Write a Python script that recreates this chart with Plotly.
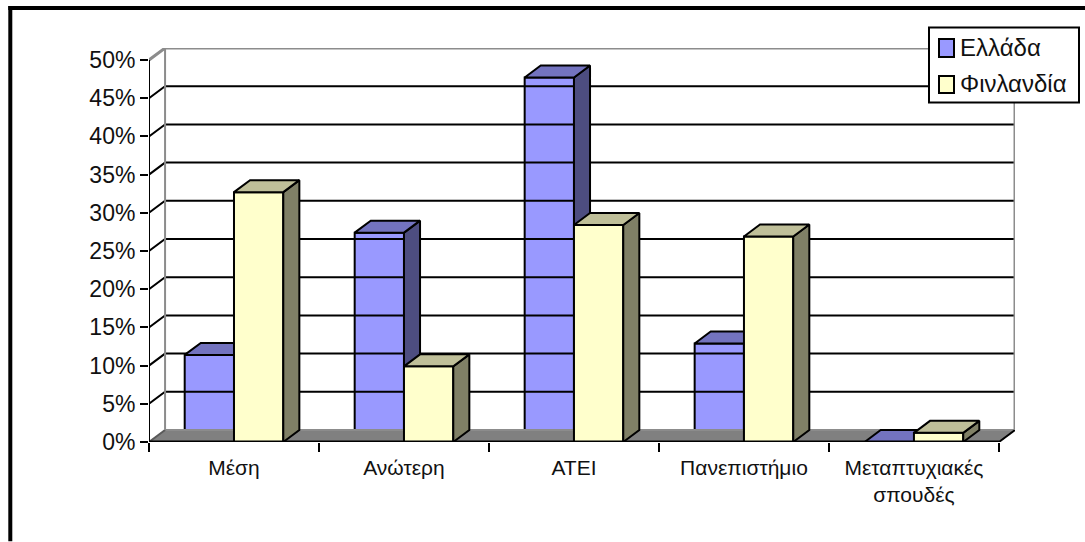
import plotly.graph_objects as go

# Survey results by education level, in percent
categories = ["Μέση", "Ανώτερη", "ΑΤΕΙ", "Πανεπιστήμιο", "Μεταπτυχιακές<br>σπουδές"]
greece = [11.4, 27.4, 47.7, 12.9, 0.0]
finland = [32.7, 9.9, 28.4, 26.9, 1.2]
y_levels = [0, 5, 10, 15, 20, 25, 30, 35, 40, 45, 50]
y_labels = ["0%", "5%", "10%", "15%", "20%", "25%", "30%", "35%", "40%", "45%", "50%"]
series_names = ["Ελλάδα", "Φινλανδία"]

FONT = "Liberation Sans, Arial, sans-serif"
N = len(categories)

# Oblique projection offset of the chart's depth, in axis units
DX = 0.0945
DY = 1.57
BAR_W = 0.29
X_MAX = N + DX
Y_MAX = 50 + DY

# Plot area placement on the page, in pixels
PLOT_L, PLOT_R, PLOT_T, PLOT_B = 149, 1015, 48, 442.5
GREECE_COLORS = ("#9999FF", "#7373BF", "#4D4D80")
FINLAND_COLORS = ("#FFFFCC", "#BFBF99", "#808066")


def px(x):
    return (x - PLOT_L) / (PLOT_R - PLOT_L)


def py(y):
    return (PLOT_B - y) / (PLOT_B - PLOT_T)


def polygons(shapes):
    xs, ys = [], []
    for shape in shapes:
        for x, y in shape:
            xs.append(x)
            ys.append(y)
        xs.append(shape[0][0])
        ys.append(shape[0][1])
        xs.append(None)
        ys.append(None)
    return xs, ys


def top_face(left, value):
    return [(left, value), (left + DX, value + DY),
            (left + BAR_W + DX, value + DY), (left + BAR_W, value)]


def side_face(left, value):
    right = left + BAR_W
    return [(right, 0), (right + DX, DY), (right + DX, value + DY), (right, value)]


def poly_trace(shapes, fill, axes, line="black", width=2):
    xs, ys = polygons(shapes)
    return go.Scatter(x=xs, y=ys, mode="lines", fill="toself", fillcolor=fill,
                      line=dict(color=line, width=width), showlegend=False,
                      hoverinfo="skip", xaxis=axes[0], yaxis=axes[1], cliponaxis=False)


def line_trace(xs, ys, color, width, axes=("x", "y")):
    return go.Scatter(x=xs, y=ys, mode="lines", line=dict(color=color, width=width),
                      showlegend=False, hoverinfo="skip", xaxis=axes[0], yaxis=axes[1],
                      cliponaxis=False)


def series_traces(name, values, lefts, colors, axes):
    front, top, side = colors
    return [
        go.Bar(x=[i + 0.5 for i in range(N)], y=values, name=name, showlegend=False,
               width=BAR_W, offset=[lefts[i] - (i + 0.5) for i in range(N)],
               marker=dict(color=front, line=dict(color="black", width=2)),
               xaxis=axes[0], yaxis=axes[1], cliponaxis=False),
        poly_trace([side_face(l, v) for l, v in zip(lefts, values)], side, axes),
        poly_trace([top_face(l, v) for l, v in zip(lefts, values)], top, axes),
    ]


traces = []

# Floor of the box
traces.append(poly_trace([[(0, 0), (DX, DY), (X_MAX, DY), (N, 0)]], "#808080", ("x", "y"),
                         line="#808080", width=1))

# Back wall grid and its diagonals on the side wall
for level in y_levels[1:-1]:
    traces.append(line_trace([0, DX, X_MAX], [level, level + DY, level + DY], "black", 2))
traces.append(line_trace([DX, X_MAX], [DY, DY], "#8c8c8c", 2))
traces.append(line_trace([0, DX], [0, DY], "#5a5a5a", 2))
traces.append(line_trace([N, X_MAX], [0, DY], "black", 2))
traces.append(line_trace([0, DX, X_MAX, X_MAX], [50, Y_MAX, Y_MAX, DY], "#8c8c8c", 3))
traces.append(line_trace([DX, DX], [DY, Y_MAX], "#8c8c8c", 2))

# Each series sits on its own overlaid axis pair so the second hides the first one's side
greece_left = [i + 0.5 - BAR_W for i in range(N)]
finland_left = [i + 0.5 for i in range(N)]
traces += series_traces(series_names[0], greece, greece_left, GREECE_COLORS, ("x", "y"))
traces += series_traces(series_names[1], finland, finland_left, FINLAND_COLORS, ("x2", "y2"))

# Front axis lines drawn above the bars
traces.append(line_trace([0, N], [0, 0], "black", 3, ("x2", "y2")))
traces.append(line_trace([0, 0], [0, 50], "black", 2, ("x2", "y2")))

fig = go.Figure(traces)


def page_rect(x0, y0, x1, y1, fill, width):
    return dict(type="rect", xref="paper", yref="paper", layer="above",
                x0=px(x0), x1=px(x1), y0=py(y0), y1=py(y1), fillcolor=fill,
                line=dict(color="black", width=width))


def legend_label(text, x, y):
    return dict(text=text, xref="paper", yref="paper", x=px(x), y=py(y),
                xanchor="left", yanchor="middle", showarrow=False,
                font=dict(size=24, family=FONT, color="#111111"))


fig.update_layout(
    width=1085, height=542,
    margin=dict(l=PLOT_L, r=1085 - PLOT_R, t=PLOT_T, b=542 - PLOT_B, autoexpand=False),
    paper_bgcolor="white", plot_bgcolor="white",
    barmode="overlay",
    showlegend=False,
    font=dict(family=FONT, color="#111111"),
    xaxis=dict(range=[0, X_MAX], showgrid=False, zeroline=False, showline=False,
               tickmode="array", tickvals=[i + 0.5 for i in range(N)], ticktext=categories,
               ticks="", ticklabelstandoff=11, tickangle=0, tickfont=dict(size=21, family=FONT),
               minor=dict(tickmode="array", tickvals=list(range(N + 1)), ticks="outside",
                          ticklen=9, tickwidth=2, tickcolor="black", showgrid=False)),
    yaxis=dict(range=[0, Y_MAX], showgrid=False, zeroline=False, showline=False,
               tickmode="array", tickvals=y_levels, ticktext=y_labels,
               ticks="outside", ticklen=8, tickwidth=2, tickcolor="black",
               tickfont=dict(size=23, family=FONT)),
    xaxis2=dict(overlaying="x", range=[0, X_MAX], visible=False),
    yaxis2=dict(overlaying="y", range=[0, Y_MAX], visible=False),
    shapes=[
        # Heavy frame along the top and left of the page
        dict(type="line", xref="paper", yref="paper",
             x0=px(8.3), x1=px(1085), y0=py(8), y1=py(8),
             line=dict(color="black", width=4)),
        dict(type="line", xref="paper", yref="paper",
             x0=px(10.3), x1=px(10.3), y0=py(6), y1=py(542),
             line=dict(color="black", width=4)),
        # Legend box and colour keys
        page_rect(929, 27.5, 1079, 102.5, "white", 2),
        page_rect(939, 39, 954, 57, GREECE_COLORS[0], 2),
        page_rect(939, 76, 954, 93, FINLAND_COLORS[0], 2),
    ],
    annotations=[
        legend_label(series_names[0], 958, 47),
        legend_label(series_names[1], 958, 84),
    ],
)

fig.write_html("out.html")
